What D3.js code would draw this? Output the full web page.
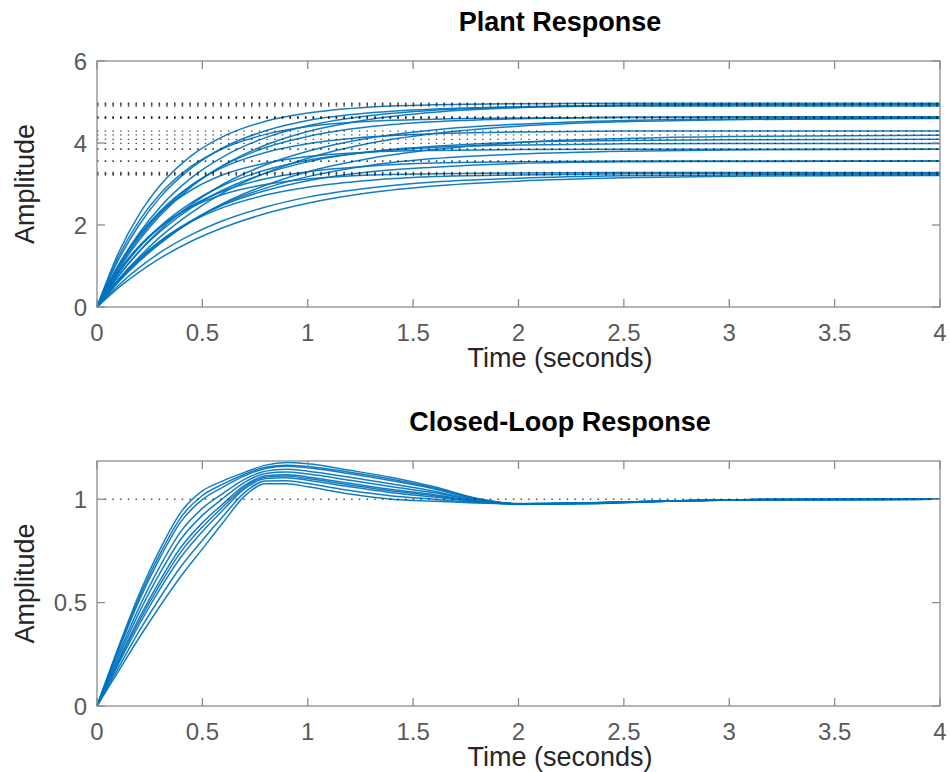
<!DOCTYPE html>
<html><head><meta charset="utf-8">
<script src="https://cdn.jsdelivr.net/npm/d3@7/dist/d3.min.js"></script>
<style>
body{margin:0;background:#fff}
svg{display:block}
text{font-family:"Liberation Sans",Arial,Helvetica,sans-serif}
</style>
</head><body>
<svg id="chart" width="950" height="772"></svg>
<script>
// ---------- DATA ----------
const xTicks = [0, 0.5, 1, 1.5, 2, 2.5, 3, 3.5, 4];
const plantYTicks = [0, 2, 4, 6];
const loopYTicks = [0, 0.5, 1];

const plantTime = [0, 0.1, 0.2, 0.3, 0.45, 0.6, 0.8, 1.0, 1.3, 1.6, 2.0, 2.5, 3.0, 4.0];
const plantCurves = [
  [0, 1.30, 2.26, 2.97, 3.70, 4.16, 4.53, 4.73, 4.88, 4.93, 4.96, 4.97, 4.97, 4.97],
  [0, 0.90, 1.63, 2.23, 2.94, 3.46, 3.95, 4.28, 4.58, 4.75, 4.86, 4.92, 4.94, 4.95],
  [0, 1.13, 2.00, 2.68, 3.40, 3.89, 4.30, 4.55, 4.74, 4.83, 4.88, 4.90, 4.90, 4.90],
  [0, 1.00, 1.80, 2.44, 3.16, 3.67, 4.13, 4.42, 4.67, 4.80, 4.88, 4.92, 4.93, 4.93],
  [0, 1.21, 2.10, 2.76, 3.44, 3.87, 4.21, 4.40, 4.53, 4.58, 4.61, 4.62, 4.62, 4.62],
  [0, 0.74, 1.36, 1.88, 2.51, 3.00, 3.47, 3.80, 4.13, 4.32, 4.46, 4.55, 4.58, 4.60],
  [0, 0.94, 1.69, 2.29, 2.97, 3.45, 3.89, 4.16, 4.40, 4.52, 4.59, 4.63, 4.64, 4.64],
  [0, 0.99, 1.75, 2.34, 2.98, 3.41, 3.77, 3.98, 4.15, 4.23, 4.27, 4.29, 4.29, 4.29],
  [0, 0.60, 1.11, 1.55, 2.10, 2.53, 2.97, 3.30, 3.63, 3.84, 4.01, 4.11, 4.16, 4.19],
  [0, 0.74, 1.35, 1.84, 2.43, 2.86, 3.26, 3.54, 3.79, 3.92, 4.02, 4.06, 4.08, 4.09],
  [0, 0.81, 1.46, 1.97, 2.55, 2.97, 3.34, 3.58, 3.78, 3.89, 3.95, 3.98, 3.99, 3.99],
  [0, 1.00, 1.75, 2.30, 2.86, 3.23, 3.51, 3.67, 3.78, 3.82, 3.84, 3.85, 3.85, 3.85],
  [0, 0.62, 1.14, 1.57, 2.10, 2.51, 2.90, 3.18, 3.46, 3.62, 3.73, 3.80, 3.83, 3.85],
  [0, 0.64, 1.17, 1.61, 2.11, 2.49, 2.84, 3.08, 3.30, 3.41, 3.50, 3.54, 3.55, 3.56],
  [0, 0.82, 1.46, 1.94, 2.47, 2.83, 3.13, 3.30, 3.44, 3.51, 3.54, 3.56, 3.56, 3.56],
  [0, 0.66, 1.19, 1.61, 2.09, 2.43, 2.73, 2.92, 3.09, 3.18, 3.22, 3.25, 3.26, 3.26],
  [0, 0.52, 0.96, 1.33, 1.77, 2.11, 2.44, 2.68, 2.91, 3.05, 3.14, 3.20, 3.22, 3.24],
  [0, 0.46, 0.85, 1.19, 1.61, 1.94, 2.28, 2.53, 2.79, 2.95, 3.07, 3.15, 3.19, 3.21],
  [0, 0.86, 1.49, 1.96, 2.44, 2.75, 2.99, 3.12, 3.22, 3.25, 3.27, 3.28, 3.28, 3.28],
  [0, 0.66, 1.22, 1.71, 2.31, 2.79, 3.27, 3.63, 4.00, 4.23, 4.41, 4.52, 4.57, 4.61]
];
const plantSteadyState = [4.97, 4.95, 4.90, 4.93, 4.62, 4.60, 4.64, 4.29, 4.20, 4.09,
                          3.99, 3.85, 3.85, 3.56, 3.56, 3.26, 3.24, 3.22, 3.28, 4.62];

const loopTime = [0, 0.1, 0.2, 0.3, 0.4, 0.5, 0.6, 0.7, 0.8, 0.9, 1.0, 1.2, 1.4, 1.6, 1.8, 2.0, 2.3, 2.7, 3.2, 4.0];
const loopCurves = [
  [0, 0.280, 0.540, 0.760, 0.940, 1.040, 1.090, 1.130, 1.165, 1.178, 1.172, 1.140, 1.105, 1.060, 1.005, 0.978, 0.978, 0.990, 0.998, 1.0],
  [0, 0.271, 0.523, 0.738, 0.915, 1.018, 1.074, 1.121, 1.155, 1.165, 1.158, 1.131, 1.097, 1.054, 1.003, 0.978, 0.979, 0.990, 0.998, 1.0],
  [0, 0.263, 0.509, 0.719, 0.894, 0.998, 1.060, 1.113, 1.149, 1.160, 1.152, 1.123, 1.089, 1.050, 1.002, 0.977, 0.979, 0.990, 0.998, 1.0],
  [0, 0.246, 0.477, 0.678, 0.847, 0.956, 1.030, 1.096, 1.136, 1.145, 1.136, 1.106, 1.074, 1.039, 0.998, 0.979, 0.980, 0.991, 0.999, 1.0],
  [0, 0.232, 0.452, 0.645, 0.810, 0.922, 1.006, 1.082, 1.125, 1.132, 1.122, 1.092, 1.061, 1.031, 0.995, 0.978, 0.981, 0.991, 0.999, 1.0],
  [0, 0.217, 0.425, 0.609, 0.770, 0.886, 0.980, 1.067, 1.114, 1.119, 1.108, 1.077, 1.047, 1.022, 0.992, 0.977, 0.981, 0.992, 0.999, 1.0],
  [0, 0.209, 0.410, 0.590, 0.748, 0.866, 0.966, 1.059, 1.107, 1.112, 1.100, 1.069, 1.040, 1.017, 0.990, 0.977, 0.981, 0.992, 0.999, 1.0],
  [0, 0.200, 0.393, 0.568, 0.723, 0.844, 0.950, 1.050, 1.100, 1.104, 1.092, 1.060, 1.032, 1.011, 0.989, 0.978, 0.982, 0.992, 0.999, 1.0],
  [0, 0.182, 0.362, 0.526, 0.677, 0.802, 0.920, 1.032, 1.088, 1.089, 1.076, 1.042, 1.016, 1.000, 0.985, 0.978, 0.982, 0.992, 0.999, 1.0],
  [0, 0.165, 0.330, 0.485, 0.630, 0.760, 0.890, 1.015, 1.075, 1.075, 1.060, 1.025, 1.000, 0.990, 0.982, 0.978, 0.982, 0.992, 0.999, 1.0]
];
const loopSteadyState = [1];

const titles = ["Plant Response", "Closed-Loop Response"];
const xLabel = "Time (seconds)";
const yLabel = "Amplitude";

// ---------- DRAW ----------
const svg = d3.select("#chart");
const LINE = "#0072BD", AX = "#8c8c8c", TICKTXT = "#5a5a5a", LABTXT = "#262626";
const TEXT_CX = 560;

function panel(opt) {
  const x = d3.scaleLinear().domain([0, 4]).range([opt.x0, opt.x1]);
  const y = d3.scaleLinear().domain(opt.yDomain).range([opt.y1, opt.y0]);
  const g = svg.append("g");

  const line = d3.line().x(d => x(d[0])).y(d => y(d[1])).curve(d3.curveMonotoneX);
  opt.curves.forEach(c => {
    g.append("path")
      .datum(opt.time.map((t, i) => [t, c[i]]))
      .attr("d", line)
      .attr("fill", "none")
      .attr("stroke", LINE)
      .attr("stroke-width", 1.5)
      .attr("stroke-opacity", 0.92);
  });

  opt.steady.forEach(v => {
    g.append("line")
      .attr("x1", x(0)).attr("x2", x(4))
      .attr("y1", y(v)).attr("y2", y(v))
      .attr("stroke", "#1a1a1a")
      .attr("stroke-width", 1.3)
      .attr("stroke-opacity", 0.75)
      .attr("stroke-dasharray", "1.5 6.2");
  });

  g.append("rect")
    .attr("x", opt.x0).attr("y", opt.y0)
    .attr("width", opt.x1 - opt.x0).attr("height", opt.y1 - opt.y0)
    .attr("fill", "none").attr("stroke", AX).attr("stroke-width", 1.3);

  const TL = 8;
  xTicks.forEach(t => {
    const px = x(t);
    g.append("line").attr("x1", px).attr("x2", px).attr("y1", opt.y1).attr("y2", opt.y1 - TL)
      .attr("stroke", AX).attr("stroke-width", 1.3);
    g.append("line").attr("x1", px).attr("x2", px).attr("y1", opt.y0).attr("y2", opt.y0 + TL)
      .attr("stroke", AX).attr("stroke-width", 1.3);
    g.append("text").attr("x", px).attr("y", opt.y1 + 25)
      .attr("text-anchor", "middle").attr("dominant-baseline", "central")
      .attr("font-size", 24).attr("fill", TICKTXT).text(t);
  });
  opt.yTicks.forEach(t => {
    const py = y(t);
    g.append("line").attr("x1", opt.x0).attr("x2", opt.x0 + TL).attr("y1", py).attr("y2", py)
      .attr("stroke", AX).attr("stroke-width", 1.3);
    g.append("line").attr("x1", opt.x1).attr("x2", opt.x1 - TL).attr("y1", py).attr("y2", py)
      .attr("stroke", AX).attr("stroke-width", 1.3);
    g.append("text").attr("x", opt.x0 - 10).attr("y", py)
      .attr("text-anchor", "end").attr("dominant-baseline", "central")
      .attr("font-size", 24).attr("fill", TICKTXT).text(t);
  });

  g.append("text").attr("x", TEXT_CX).attr("y", opt.y1 + 51)
    .attr("text-anchor", "middle").attr("dominant-baseline", "central")
    .attr("font-size", 27).attr("fill", LABTXT).text(xLabel);
  g.append("text")
    .attr("transform", `translate(${opt.x0 - 72},${(opt.y0 + opt.y1) / 2}) rotate(-90)`)
    .attr("text-anchor", "middle").attr("dominant-baseline", "central")
    .attr("font-size", 27).attr("fill", LABTXT).text(yLabel);
  g.append("text").attr("x", TEXT_CX).attr("y", opt.y0 - 39)
    .attr("text-anchor", "middle").attr("dominant-baseline", "central")
    .attr("font-size", 27).attr("font-weight", "bold").attr("fill", "#000").text(opt.title);
}

panel({x0: 97, x1: 940, y0: 61, y1: 307, yDomain: [0, 6], yTicks: plantYTicks,
       time: plantTime, curves: plantCurves, steady: plantSteadyState, title: titles[0]});
panel({x0: 97, x1: 940, y0: 461, y1: 706, yDomain: [0, 1.185], yTicks: loopYTicks,
       time: loopTime, curves: loopCurves, steady: loopSteadyState, title: titles[1]});
</script>
</body></html>
